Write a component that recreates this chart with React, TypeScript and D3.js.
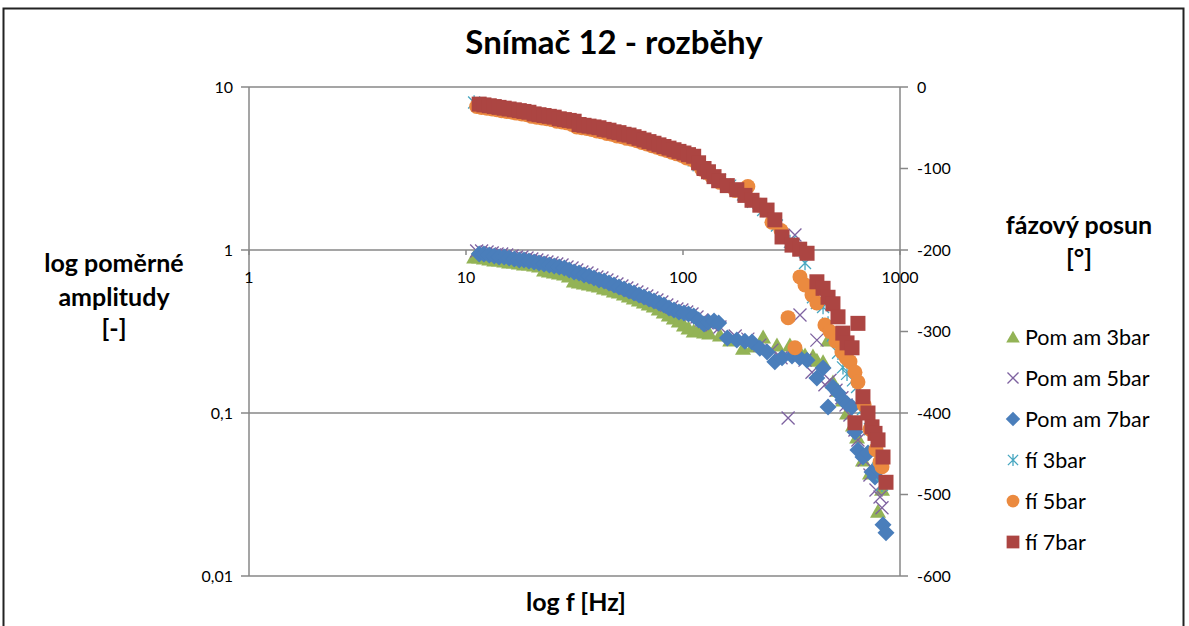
import * as d3 from "d3";

// run-up 3 bar
const freq3 = [10.9, 11.5, 12.1, 12.8, 13.5, 14.2, 15.0, 15.8, 16.6, 17.5, 18.5, 19.5, 20.6, 21.7, 22.9, 24.1, 25.4, 26.8, 28.3, 29.8, 31.4, 33.1, 34.9, 36.8, 38.8, 40.9, 43.2, 45.5, 48.0, 50.6, 53.4, 56.3, 59.3, 62.6, 66.0, 69.5, 73.3, 77.3, 81.5, 86.0, 90.7, 95.6, 101, 106, 112, 118, 125, 132,
    148, 165, 189, 210, 234, 271, 311, 346, 365, 397, 414, 442, 466, 491, 518, 546, 570, 607, 634, 675, 727, 792, 826];
const ampl3 = [0.906, 0.906, 0.893, 0.881, 0.868, 0.868, 0.856, 0.844, 0.844, 0.832, 0.821, 0.821, 0.809, 0.798, 0.754, 0.743, 0.733, 0.723, 0.712, 0.693, 0.645, 0.636, 0.627, 0.618, 0.610, 0.601, 0.585, 0.576, 0.560, 0.552, 0.537, 0.522, 0.508, 0.494, 0.480, 0.466, 0.453, 0.435, 0.417, 0.399, 0.383, 0.367, 0.347, 0.332, 0.318, 0.323, 0.314, 0.310,
    0.301, 0.280, 0.250, 0.258, 0.293, 0.261, 0.261, 0.237, 0.227, 0.224, 0.211, 0.206, 0.280, 0.155, 0.138, 0.120, 0.100, 0.0844, 0.0712, 0.0515, 0.0428, 0.025, 0.034];
const phase3 = [-19, -21, -23, -24, -25, -26, -27, -28, -29, -30, -31, -32, -34, -35, -37, -38, -39, -41, -42, -43, -45, -47, -48, -50, -51, -52, -54, -55, -57, -58, -60, -61, -63, -65, -67, -69, -71, -73, -75, -77, -79, -82, -84, -87, -90, -96, -101, -106,
    -114, -121, -132, -141, -151, -170, -190, -200, -216, -258, -265, -270, -290, -305, -326, -344, -352, -360, -368, -395, -420, -455, -488];

// run-up 5 bar
const freq5 = [11.2, 11.8, 12.5, 13.2, 13.9, 14.6, 15.4, 16.3, 17.1, 18.1, 19.1, 20.1, 21.2, 22.4, 23.6, 24.9, 26.2, 27.7, 29.2, 30.8, 32.4, 34.2, 36.1, 38.0, 40.1, 42.3, 44.6, 47.0, 49.6, 52.3, 55.1, 58.1, 61.3, 64.6, 68.1, 71.9, 75.8, 79.9, 84.2, 88.8, 93.7, 98.8, 104, 110, 116, 122, 129, 136,
    148, 174, 199, 226, 257, 283, 305, 328, 346, 365, 393, 414, 451, 476, 507, 540, 564, 588, 620, 640, 683, 727, 775, 809, 826];
const ampl5 = [0.986, 0.986, 0.972, 0.958, 0.945, 0.945, 0.932, 0.919, 0.906, 0.906, 0.893, 0.881, 0.868, 0.856, 0.844, 0.832, 0.821, 0.809, 0.787, 0.776, 0.754, 0.733, 0.723, 0.703, 0.683, 0.673, 0.655, 0.636, 0.618, 0.601, 0.585, 0.568, 0.552, 0.537, 0.522, 0.508, 0.494, 0.480, 0.460, 0.447, 0.435, 0.428, 0.417, 0.405, 0.388, 0.372, 0.357, 0.347,
    0.337, 0.297, 0.284, 0.261, 0.243, 0.218, 0.0932, 1.236, 0.399, 0.211, 0.178, 0.280, 0.149, 0.159, 0.138, 0.124, 0.112, 0.0972, 0.0787, 0.0683, 0.0515, 0.0417, 0.0337, 0.0305, 0.0262];
const phase5 = [-24, -25, -26, -27, -28, -29, -30, -31, -32, -33, -34, -36, -37, -38, -39, -40, -42, -43, -44, -46, -49, -50, -51, -52, -54, -55, -57, -58, -60, -61, -63, -64, -66, -68, -70, -72, -74, -76, -78, -80, -82, -84, -87, -89, -94, -101, -105, -110,
    -117, -127, -122, -145, -166, -176, -283, -320, -233, -243, -255, -265, -292, -300, -312, -325, -332, -337, -350, -362, -390, -420, -445, -460, -466];

// run-up 7 bar
const freq7 = [11.5, 12.1, 12.8, 13.5, 14.2, 15.0, 15.8, 16.7, 17.6, 18.5, 19.5, 20.6, 21.7, 22.9, 24.2, 25.5, 26.9, 28.4, 29.9, 31.5, 33.2, 35.0, 36.9, 38.9, 41.0, 43.3, 45.6, 48.1, 50.7, 53.5, 56.4, 59.5, 62.7, 66.1, 69.7, 73.5, 77.5, 81.7, 86.2, 90.9, 95.8, 101, 106, 112, 118, 125, 131, 139,
    146, 160, 177, 193, 208, 226, 244, 265, 286, 318, 345, 373, 414, 442, 466, 491, 518, 545, 570, 601, 620, 640, 675, 712, 743, 767, 792, 835, 862];
const ampl7 = [0.945, 0.945, 0.932, 0.919, 0.906, 0.906, 0.893, 0.881, 0.868, 0.868, 0.856, 0.844, 0.832, 0.821, 0.809, 0.798, 0.787, 0.776, 0.754, 0.733, 0.723, 0.703, 0.693, 0.673, 0.655, 0.645, 0.627, 0.610, 0.593, 0.576, 0.560, 0.545, 0.530, 0.515, 0.501, 0.487, 0.473, 0.460, 0.441, 0.428, 0.417, 0.411, 0.405, 0.394, 0.372, 0.352, 0.362, 0.367,
    0.357, 0.288, 0.280, 0.276, 0.273, 0.250, 0.237, 0.206, 0.218, 0.224, 0.218, 0.211, 0.164, 0.189, 0.109, 0.144, 0.133, 0.120, 0.114, 0.109, 0.0764, 0.0593, 0.0537, 0.0568, 0.0435, 0.0405, 0.0446, 0.0206, 0.0184];
const phase7 = [-21, -22, -23, -24, -25, -26, -27, -28, -29, -30, -31, -33, -34, -35, -36, -37, -39, -40, -41, -42, -46, -47, -48, -49, -50, -52, -53, -55, -56, -58, -59, -61, -63, -65, -67, -69, -71, -73, -75, -77, -79, -81, -83, -85, -93, -100, -104, -110,
    -115, -121, -126, -133, -139, -145, -151, -163, -184, -194, -199, -204, -239, -247, -258, -266, -282, -302, -314, -320, -412, -290, -380, -400, -417, -425, -433, -454, -485];

const xTicks = [1, 10, 100, 1000];
const ampTicks = [0.01, 0.1, 1, 10];
const phaseTicks = [0, -100, -200, -300, -400, -500, -600];

const FONT = "Lato, 'Open Sans', sans-serif";
const W = 1189;
const H = 626;

type Shape = "triangle" | "x" | "diamond" | "star" | "circle" | "square";

const series: { name: string, freq: number[], values: number[], axis: "L" | "R", shape: Shape, color: string }[] = [
    { name: "Pom am 3bar", freq: freq3, values: ampl3, axis: "L", shape: "triangle", color: "#93B356" },
    { name: "Pom am 5bar", freq: freq5, values: ampl5, axis: "L", shape: "x", color: "#7E62A0" },
    { name: "Pom am 7bar", freq: freq7, values: ampl7, axis: "L", shape: "diamond", color: "#4A7EBB" },
    { name: "fí 3bar", freq: freq3, values: phase3, axis: "R", shape: "star", color: "#46A6C0" },
    { name: "fí 5bar", freq: freq5, values: phase5, axis: "R", shape: "circle", color: "#EB8A3F" },
    { name: "fí 7bar", freq: freq7, values: phase7, axis: "R", shape: "square", color: "#AC4542" },
];

const Marker = ({ shape, cx, cy, color, k = 1 }: { shape: Shape, cx: number, cy: number, color: string, k?: number }) => {
    if (shape === "triangle") {
        return <path d={`M${cx},${cy - 7.5 * k}L${cx + 8 * k},${cy + 6.5 * k}L${cx - 8 * k},${cy + 6.5 * k}Z`} fill={color} />;
    }
    if (shape === "diamond") {
        return <path d={`M${cx},${cy - 8.5 * k}L${cx + 8.5 * k},${cy}L${cx},${cy + 8.5 * k}L${cx - 8.5 * k},${cy}Z`} fill={color} />;
    }
    if (shape === "square") {
        return <rect x={cx - 7.5 * k} y={cy - 7.5 * k} width={15 * k} height={15 * k} fill={color} />;
    }
    if (shape === "circle") {
        return <circle cx={cx} cy={cy} r={7.5 * k} fill={color} />;
    }
    const h = (shape === "x" ? 6.5 : 6) * k;
    return (
        <path
            d={`M${cx - h},${cy - h}L${cx + h},${cy + h}M${cx - h},${cy + h}L${cx + h},${cy - h}` + (shape === "star" ? `M${cx},${cy - h * 1.2}L${cx},${cy + h * 1.2}` : "")}
            stroke={color}
            strokeWidth={1.3}
            fill="none"
        />
    );
};

const App = () => {
    const plotLeft = 249;
    const plotRight = 900;
    const plotTop = 87;
    const plotBottom = 576;

    const x = d3.scaleLog().domain([1, 1000]).range([plotLeft, plotRight]);
    const yL = d3.scaleLog().domain([0.01, 10]).range([plotBottom, plotTop]);
    const yR = d3.scaleLinear().domain([-600, 0]).range([plotBottom, plotTop]);
    const axisY = yL(1);
    const grid = "#878787";

    return (
        <svg width={W} height={H} style={{ position: "absolute", left: 0, top: 0, background: "#fff" }} fontFamily={FONT}>
            <rect x={3.5} y={8.5} width={1180} height={640} fill="#fff" stroke="#222" strokeWidth={2} />
            <text x={614} y={54} textAnchor="middle" fontSize={33} fontWeight="bold" fill="#000">Snímač 12 - rozběhy</text>

            {/* gridlines + left axis */}
            {ampTicks.map((t) => (
                <g key={t}>
                    <line x1={plotLeft - 8} x2={plotRight} y1={yL(t)} y2={yL(t)} stroke={grid} strokeWidth={1.5} />
                    <text x={233} y={yL(t)} dy="0.35em" textAnchor="end" fontSize={16} fill="#000">{String(t).replace(".", ",")}</text>
                </g>
            ))}
            <line x1={plotLeft} x2={plotLeft} y1={plotTop} y2={plotBottom} stroke={grid} strokeWidth={1.5} />
            <line x1={plotRight} x2={plotRight} y1={plotTop} y2={plotBottom} stroke={grid} strokeWidth={1.5} />

            {/* right axis */}
            {phaseTicks.map((t) => (
                <g key={t}>
                    <line x1={plotRight} x2={plotRight + 8} y1={yR(t)} y2={yR(t)} stroke={grid} strokeWidth={1.5} />
                    <text x={917} y={yR(t)} dy="0.35em" fontSize={16} fill="#000">{t}</text>
                </g>
            ))}

            {/* x axis crossing at amplitude 1 */}
            {xTicks.map((t) => (
                <g key={t}>
                    <line x1={x(t)} x2={x(t)} y1={axisY} y2={axisY + 5} stroke={grid} strokeWidth={1.5} />
                    <text x={x(t)} y={axisY + 27} dy="0.35em" textAnchor="middle" fontSize={16} fill="#000">{t}</text>
                </g>
            ))}

            {/* data */}
            {series.map((s) => (
                <g key={s.name}>
                    {s.freq.map((f, i) => (
                        <Marker key={i} shape={s.shape} color={s.color}
                            cx={x(f)} cy={s.axis === "L" ? yL(s.values[i]) : yR(s.values[i])} />
                    ))}
                </g>
            ))}

            {/* axis titles */}
            <text textAnchor="middle" fontSize={25} fontWeight="bold" fill="#000">
                <tspan x={114} y={272}>log poměrné</tspan>
                <tspan x={114} y={306}>amplitudy</tspan>
                <tspan x={114} y={337}>[-]</tspan>
            </text>
            <text textAnchor="middle" fontSize={25} fontWeight="bold" fill="#000">
                <tspan x={1079} y={234}>fázový posun</tspan>
                <tspan x={1079} y={267}>[°]</tspan>
            </text>
            <text x={576} y={611} textAnchor="middle" fontSize={25} fontWeight="bold" fill="#000">log f [Hz]</text>

            {/* legend */}
            {series.map((s, i) => (
                <g key={s.name} transform={`translate(0,${337 + i * 41})`}>
                    <Marker shape={s.shape} color={s.color} cx={1013} cy={0} k={0.85} />
                    <text x={1025} y={0} dy="0.35em" fontSize={21.5} fill="#000">{s.name}</text>
                </g>
            ))}
        </svg>
    );
};

export default App;
